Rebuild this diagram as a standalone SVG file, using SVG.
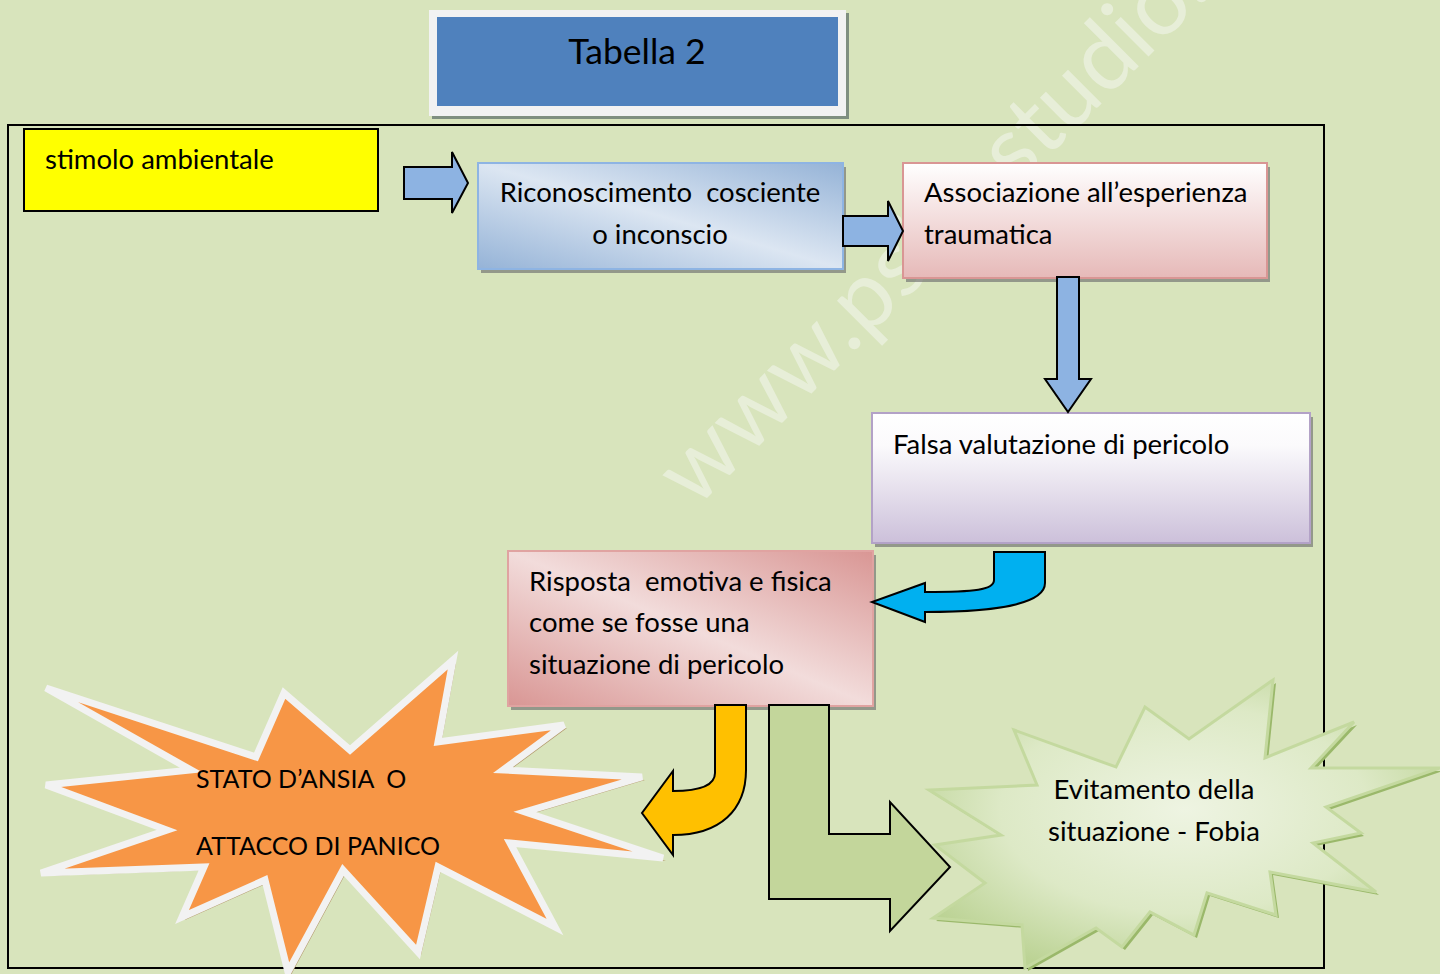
<svg xmlns="http://www.w3.org/2000/svg" width="1440" height="974" viewBox="0 0 1440 974" xml:space="preserve">
<defs>
<style>
text{font-family:Lato,"Open Sans","Liberation Sans",sans-serif;fill:#000;font-size:27.5px;white-space:pre}
text.title{font-size:35.5px}
text.caps{font-size:25px}
.shadow{fill:#6f6f6f;opacity:0.65}
.conn{stroke:#000;stroke-width:2;stroke-linejoin:miter}
text.wm{font-size:94px;fill:#eef3e4;opacity:0.7}
</style>
<linearGradient id="gBlue" x1="0" y1="1" x2="1" y2="0">
<stop offset="0" stop-color="#95b3d7"/>
<stop offset="0.5" stop-color="#dce6f2"/>
<stop offset="1" stop-color="#95b3d7"/>
</linearGradient>
<linearGradient id="gPink" x1="0" y1="0" x2="0" y2="1">
<stop offset="0" stop-color="#ffffff"/>
<stop offset="1" stop-color="#e6b9b8"/>
</linearGradient>
<linearGradient id="gLav" x1="0" y1="0" x2="0" y2="1">
<stop offset="0" stop-color="#ffffff"/>
<stop offset="0.25" stop-color="#fbfafc"/>
<stop offset="1" stop-color="#ccc0da"/>
</linearGradient>
<linearGradient id="gRose" x1="0" y1="1" x2="1" y2="0">
<stop offset="0" stop-color="#d99694"/>
<stop offset="0.5" stop-color="#f2dcdb"/>
<stop offset="1" stop-color="#d99694"/>
</linearGradient>
<radialGradient id="gGreen" cx="0.5" cy="0.45" r="0.6">
<stop offset="0" stop-color="#eef4e2"/>
<stop offset="0.6" stop-color="#dde9c6"/>
<stop offset="1" stop-color="#bcd395"/>
</radialGradient>
</defs>

<rect x="0" y="0" width="1440" height="974" fill="#d8e4bc"/>

<text class="wm" transform="translate(695,510) rotate(-45)">www.psicostudio.c</text>

<rect x="8" y="125" width="1316" height="843" fill="none" stroke="#000" stroke-width="2"/>

<g id="title">
<rect x="432" y="13" width="417" height="106" fill="#7f8f80"/>
<rect x="429" y="10" width="417" height="106" fill="#f2f2f2"/>
<rect x="437" y="17" width="401" height="89" fill="#4f81bd"/>
<text class="title" x="637" y="64" text-anchor="middle">Tabella 2</text>
</g>

<g id="stimolo">
<rect x="24" y="129" width="354" height="82" fill="#ffff00" stroke="#000" stroke-width="2"/>
<text x="45" y="169">stimolo ambientale</text>
</g>

<g id="riconoscimento">
<rect class="shadow" x="481" y="167" width="365" height="106"/>
<rect x="478" y="163" width="365" height="106" fill="url(#gBlue)" stroke="#8eb4e3" stroke-width="2"/>
<text x="660" y="202" text-anchor="middle">Riconoscimento  cosciente</text>
<text x="660" y="244" text-anchor="middle">o inconscio</text>
</g>

<g id="associazione">
<rect class="shadow" x="906" y="167" width="364" height="115"/>
<rect x="903" y="163" width="364" height="115" fill="url(#gPink)" stroke="#d99694" stroke-width="2"/>
<text x="924" y="202">Associazione all’esperienza</text>
<text x="924" y="244">traumatica</text>
</g>

<g id="falsa">
<rect class="shadow" x="875" y="417" width="438" height="130"/>
<rect x="872" y="413" width="438" height="130" fill="url(#gLav)" stroke="#b3a2c7" stroke-width="2"/>
<text x="893" y="454">Falsa valutazione di pericolo</text>
</g>

<g id="risposta">
<rect class="shadow" x="511" y="555" width="365" height="155"/>
<rect x="508" y="551" width="365" height="155" fill="url(#gRose)" stroke="#e0a3a1" stroke-width="2"/>
<text x="529" y="591">Risposta  emotiva e fisica</text>
<text x="529" y="632">come se fosse una</text>
<text x="529" y="674">situazione di pericolo</text>
</g>

<g id="ansia">
<polygon points="49,691 259,760 287,696 353,753 456,663 441,745 567,728 506,773 645,780 528,815 666,861 513,846 558,930 441,870 421,955 346,873 291,975 268,883 185,920 207,870 44,876 170,833 49,788 194,773" fill="#b3996c"/>
<polygon points="46,688 256,757 284,693 350,750 453,660 438,742 564,725 503,770 642,777 525,812 663,858 510,843 555,927 438,867 418,952 343,870 288,972 265,880 182,917 204,867 41,873 167,830 46,785 191,770" fill="#f79646" stroke="#f2f2f2" stroke-width="7" stroke-linejoin="miter"/>
<text class="caps" x="196" y="788">STATO D’ANSIA  O</text>
<text class="caps" x="196" y="855">ATTACCO DI PANICO</text>
</g>

<g id="evitamento">
<polygon points="1017,733 1119,770 1148,710 1192,742 1276,683 1268,761 1357,725 1314,771 1443,771 1329,810 1364,836 1316,846 1379,895 1273,875 1279,918 1210,896 1197,938 1153,915 1125,950 1099,931 1028,971 1025,928 936,921 988,886 938,848 1004,838 932,793 1040,788" fill="#9ab86a"/>
<polygon points="1014,730 1116,767 1145,707 1189,739 1273,680 1265,758 1354,722 1311,768 1440,768 1326,807 1361,833 1313,843 1376,892 1270,872 1276,915 1207,893 1194,935 1150,912 1122,947 1096,928 1025,968 1022,925 933,918 985,883 935,845 1001,835 929,790 1037,785" fill="url(#gGreen)" stroke="#c4d99f" stroke-width="3"/>
<text x="1154" y="799" text-anchor="middle">Evitamento della</text>
<text x="1154" y="841" text-anchor="middle">situazione - Fobia</text>
</g>

<g id="connectors">
<path class="conn" fill="#8db3e2" d="M404,167 L452,167 L452,152 L468,183 L452,213 L452,199 L404,199 Z"/>
<path class="conn" fill="#8db3e2" d="M843,216 L888,216 L888,201 L903,231 L888,261 L888,246 L843,246 Z"/>
<path class="conn" fill="#8db3e2" d="M1057,277 L1079,277 L1079,379 L1091,379 L1068,412 L1045,379 L1057,379 Z"/>
<path class="conn" fill="#00b0f0" d="M994,552 L1045,552 L1045,583 C1045,603 1000,612 925,612 L925,622 L872,602 L925,583 L925,592 C975,592 994,590 994,580 Z"/>
<path class="conn" fill="#ffc000" d="M715,705 L746,705 L746,770 C746,810 720,835 673,835 L673,855 L642,813 L673,771 L673,791 C700,791 715,785 715,773 Z"/>
<path class="conn" fill="#c3d69b" d="M769,705 L829,705 L829,834 L890,834 L890,802 L950,867 L890,931 L890,899 L769,899 Z"/>
</g>
</svg>
